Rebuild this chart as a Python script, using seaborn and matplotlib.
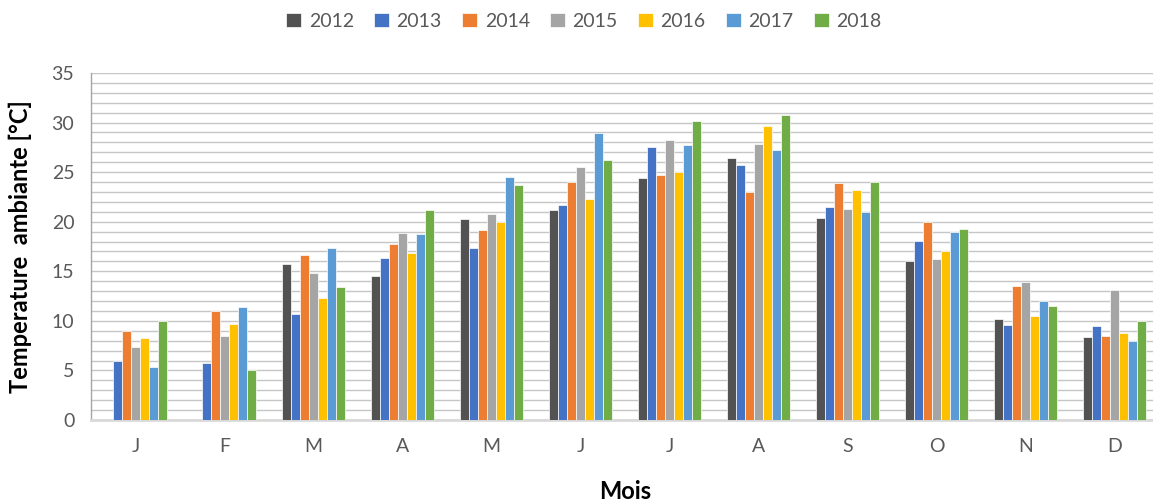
import numpy as np
import pandas as pd
import matplotlib
matplotlib.use("Agg")
import matplotlib.pyplot as plt
import seaborn as sns
from matplotlib.ticker import MultipleLocator

months = ["J", "F", "M", "A", "M", "J", "J", "A", "S", "O", "N", "D"]
years = ["2012", "2013", "2014", "2015", "2016", "2017", "2018"]

t2012 = [np.nan, np.nan, 15.7, 14.5, 20.3, 21.2, 24.4, 26.4, 20.4, 16.0, 10.2, 8.4]
t2013 = [6.0, 5.7, 10.7, 16.3, 17.3, 21.7, 27.5, 25.7, 21.5, 18.1, 9.6, 9.5]
t2014 = [9.0, 11.0, 16.6, 17.8, 19.2, 24.0, 24.7, 23.0, 23.9, 20.0, 13.5, 8.5]
t2015 = [7.4, 8.5, 14.8, 18.9, 20.8, 25.5, 28.2, 27.8, 21.3, 16.2, 13.9, 13.1]
t2016 = [8.3, 9.7, 12.3, 16.8, 20.0, 22.3, 25.0, 29.7, 23.2, 17.0, 10.5, 8.8]
t2017 = [5.3, 11.4, 17.3, 18.8, 24.5, 28.9, 27.7, 27.2, 21.0, 19.0, 12.0, 8.0]
t2018 = [10.0, 5.0, 13.4, 21.2, 23.7, 26.2, 30.2, 30.8, 24.0, 19.3, 11.5, 10.0]

series = [t2012, t2013, t2014, t2015, t2016, t2017, t2018]
colors = ["#525252", "#4472C4", "#ED7D31", "#A5A5A5", "#FFC000", "#5B9BD5", "#70AD47"]

# Month positions need unique keys because letters repeat
month_keys = [f"{i:02d}" for i in range(len(months))]
rows = []
for year, vals in zip(years, series):
    for key, v in zip(month_keys, vals):
        if not np.isnan(v):
            rows.append({"mois": key, "annee": year, "temp": v})
df = pd.DataFrame(rows)

sns.set_theme(style="white")
plt.rcParams["font.family"] = ["Lato", "DejaVu Sans"]

fig = plt.figure(figsize=(11.53, 5.01), dpi=100)
ax = fig.add_axes([91 / 1153, 81 / 501, 1068 / 1153, 347 / 501])

sns.barplot(data=df, x="mois", y="temp", hue="annee", order=month_keys,
            hue_order=years, palette=colors, width=0.71, gap=0,
            edgecolor="white", linewidth=0.5, saturation=1, errorbar=None,
            ax=ax, zorder=3)

ax.set_ylim(0, 35)
ax.set_xlim(-0.5, len(months) - 0.5)
ax.yaxis.set_major_locator(MultipleLocator(5))
ax.yaxis.set_minor_locator(MultipleLocator(1))
ax.grid(axis="y", which="both", color="#c6c6c6", linewidth=1.0, zorder=0)
ax.set_axisbelow(True)

ax.set_xticks(range(len(months)))
ax.set_xticklabels(months)
ax.tick_params(axis="x", length=0, pad=13, labelsize=14, labelcolor="#595959")
ax.tick_params(axis="y", which="major", length=5, width=1, color="#a6a6a6",
               direction="out", pad=7, labelsize=14, labelcolor="#595959")
ax.tick_params(axis="y", which="minor", length=0)

for side in ["top", "right"]:
    ax.spines[side].set_visible(False)
ax.spines["left"].set_color("#a6a6a6")
ax.spines["left"].set_linewidth(1)
ax.spines["bottom"].set_color("#d9d9d9")
ax.spines["bottom"].set_linewidth(2)

ax.set_xlabel("Mois", fontsize=17, fontweight="bold", color="black", labelpad=18)
ax.set_ylabel("Temperature  ambiante [°C]", fontsize=17, fontweight="bold",
              color="black", labelpad=14)

handles, labels = ax.get_legend_handles_labels()
ax.legend_.remove()
fig.legend(handles, labels, loc="center", bbox_to_anchor=(584 / 1153, 0.958),
           ncol=7, frameon=False, fontsize=14, labelcolor="#595959",
           handlelength=0.75, handleheight=0.75, handletextpad=0.4,
           columnspacing=1.05)

fig.savefig("out.png", dpi=100)
